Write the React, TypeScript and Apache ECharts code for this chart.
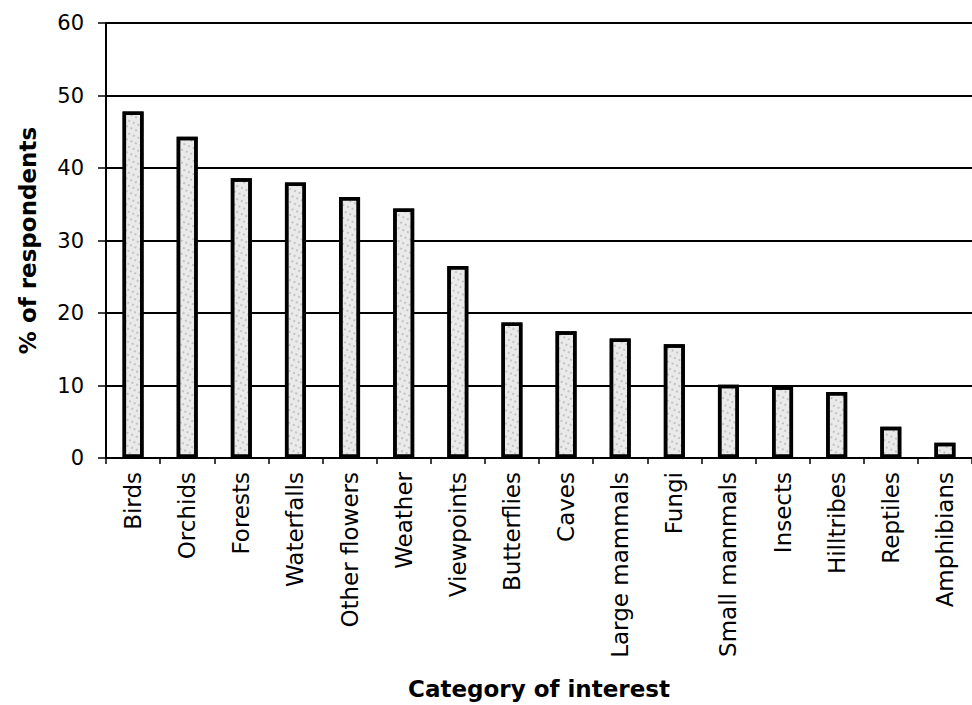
import React, { useEffect, useRef } from "react";
import * as echarts from "echarts";

const categories = [
  "Birds", "Orchids", "Forests", "Waterfalls", "Other flowers", "Weather",
  "Viewpoints", "Butterflies", "Caves", "Large mammals", "Fungi",
  "Small mammals", "Insects", "Hilltribes", "Reptiles", "Amphibians",
];
const percentRespondents = [
  47.8, 44.3, 38.6, 38.0, 36.0, 34.4, 26.5, 18.7, 17.5, 16.5, 15.7,
  10.1, 9.9, 9.1, 4.3, 2.1,
];
const yTicks = { min: 0, max: 60, interval: 10 };
const xTitle = "Category of interest";
const yTitle = "% of respondents";

export default function App() {
  const ref = useRef<HTMLDivElement>(null);
  useEffect(() => {
    if (!ref.current) return;
    const chart = echarts.init(ref.current, null, { renderer: "svg" });
    const font = "DejaVu Sans";
    chart.setOption({
      animation: false,
      backgroundColor: "#ffffff",
      grid: { left: 106, right: -11, top: 23, bottom: 246 },
      xAxis: {
        type: "category",
        data: categories,
        name: xTitle,
        nameLocation: "middle",
        nameGap: 219,
        nameTextStyle: { fontFamily: font, fontWeight: "bold", fontSize: 23, color: "#000" },
        axisLine: { lineStyle: { color: "#000", width: 2 } },
        axisTick: { show: true, length: 6, lineStyle: { color: "#000", width: 1.5 } },
        axisLabel: {
          rotate: 90,
          margin: 14,
          fontFamily: font,
          fontSize: 23,
          color: "#000",
          interval: 0,
        },
      },
      yAxis: {
        type: "value",
        min: yTicks.min,
        max: yTicks.max,
        interval: yTicks.interval,
        name: yTitle,
        nameLocation: "middle",
        nameGap: 67,
        nameTextStyle: { fontFamily: font, fontWeight: "bold", fontSize: 23, color: "#000" },
        axisLine: { show: true, lineStyle: { color: "#000", width: 2 } },
        axisTick: { show: true, length: 8, lineStyle: { color: "#000", width: 1.5 } },
        axisLabel: { margin: 22, fontFamily: font, fontSize: 21, color: "#000" },
        splitLine: { show: true, lineStyle: { color: "#000", width: 2 } },
      },
      series: [
        {
          type: "bar",
          data: percentRespondents,
          barWidth: 21,
          itemStyle: {
            color: "#eaeaea",
            borderColor: "#000",
            borderWidth: 3.5,
            decal: {
              symbol: "circle",
              symbolSize: 0.6,
              color: "rgba(40,40,40,0.6)",
              dashArrayX: [2, 3],
              dashArrayY: [2, 4],
              rotation: 0.4,
            },
          },
        },
      ],
    });
    return () => chart.dispose();
  }, []);
  return (
    <div
      ref={ref}
      style={{ position: "absolute", left: 0, top: 0, width: 972, height: 705 }}
    />
  );
}
